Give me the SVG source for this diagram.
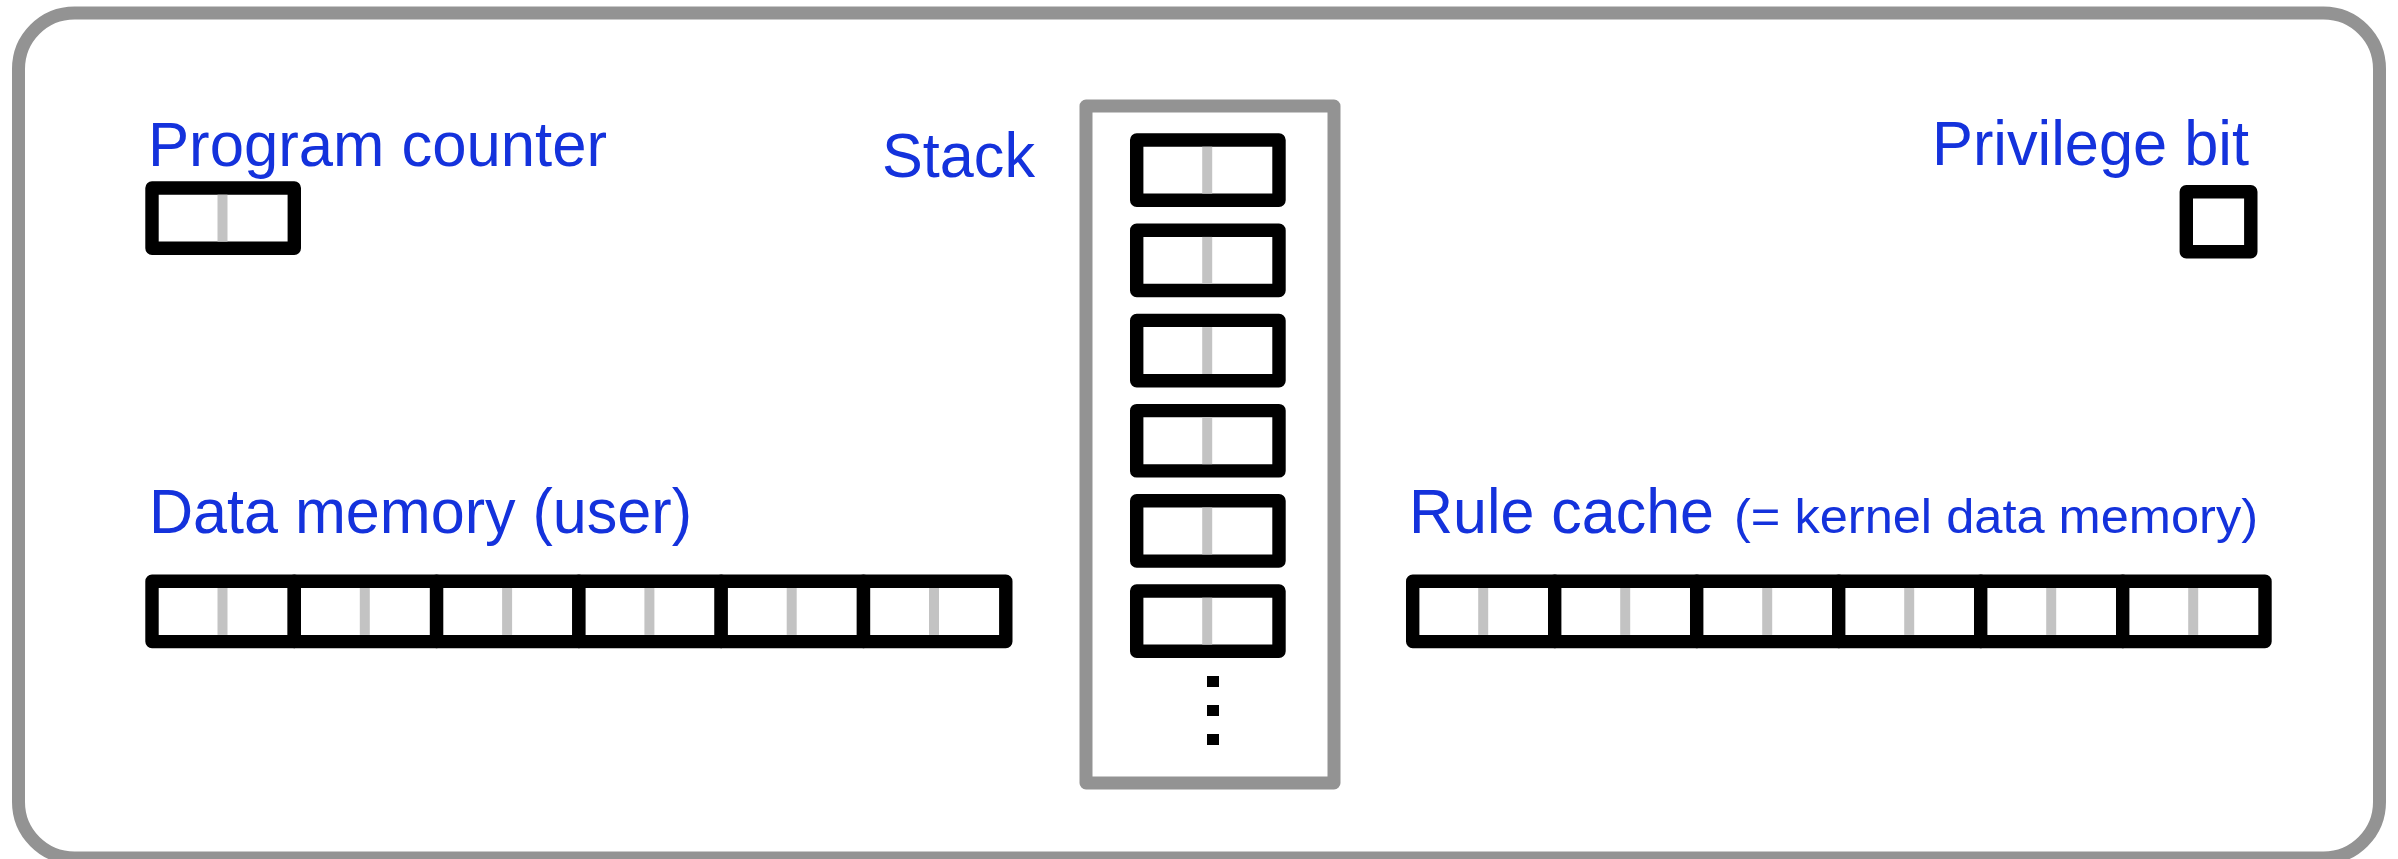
<svg xmlns="http://www.w3.org/2000/svg" width="2398" height="859" viewBox="0 0 2398 859">
<defs>
<style>
.lbl{font-family:"Liberation Sans",Arial,Helvetica,sans-serif;fill:#1432DC;font-size:63px}
.sm{font-size:48px}
.cell{fill:#fff;stroke:#000;stroke-width:13.4;stroke-linejoin:round}
.div{stroke:#C3C3C3;stroke-width:10}
.frame{fill:none;stroke:#939393;stroke-width:13;stroke-linejoin:round}
.dot{fill:#000}
</style>
<g id="c2">
<rect class="cell" x="0" y="0" width="142.3" height="60.3"/>
<line class="div" x1="70.5" y1="6.7" x2="70.5" y2="53.6"/>
</g>
</defs>
<rect x="0" y="0" width="2398" height="859" fill="#fff"/>
<g id="outer">
<rect x="18.5" y="13" width="2361" height="845" rx="56" ry="56" fill="#fff" stroke="#939393" stroke-width="13"/>
</g>
<g id="program-counter">
<text class="lbl" x="148" y="166" textLength="459" lengthAdjust="spacingAndGlyphs">Program counter</text>
<use href="#c2" x="152" y="188"/>
</g>
<g id="stack">
<text class="lbl" x="882" y="177" textLength="153" lengthAdjust="spacingAndGlyphs">Stack</text>
<rect class="frame" x="1086" y="106" width="248" height="677"/>
<use href="#c2" x="1136.7" y="140"/>
<use href="#c2" x="1136.7" y="230.2"/>
<use href="#c2" x="1136.7" y="320.4"/>
<use href="#c2" x="1136.7" y="410.6"/>
<use href="#c2" x="1136.7" y="500.8"/>
<use href="#c2" x="1136.7" y="591"/>
<rect class="dot" x="1207" y="676" width="12" height="11"/>
<rect class="dot" x="1207" y="705" width="12" height="11"/>
<rect class="dot" x="1207" y="734" width="12" height="11"/>
</g>
<g id="privilege-bit">
<text class="lbl" x="1932" y="165" textLength="317" lengthAdjust="spacingAndGlyphs">Privilege bit</text>
<rect class="cell" x="2186.3" y="191.8" width="64.5" height="60"/>
</g>
<g id="data-memory">
<text class="lbl" x="149" y="533" textLength="543" lengthAdjust="spacingAndGlyphs">Data memory (user)</text>
<use href="#c2" x="152" y="581.3"/>
<use href="#c2" x="294.3" y="581.3"/>
<use href="#c2" x="436.6" y="581.3"/>
<use href="#c2" x="578.9" y="581.3"/>
<use href="#c2" x="721.2" y="581.3"/>
<use href="#c2" x="863.5" y="581.3"/>
</g>
<g id="rule-cache">
<text class="lbl" x="1409" y="533" textLength="305" lengthAdjust="spacingAndGlyphs">Rule cache</text>
<text class="lbl sm" x="1734" y="533" textLength="524" lengthAdjust="spacingAndGlyphs">(= kernel data memory)</text>
<use href="#c2" x="1412.7" y="581.3"/>
<use href="#c2" x="1554.7" y="581.3"/>
<use href="#c2" x="1696.7" y="581.3"/>
<use href="#c2" x="1838.7" y="581.3"/>
<use href="#c2" x="1980.7" y="581.3"/>
<use href="#c2" x="2122.7" y="581.3"/>
</g>
<g id="connectors"/>
</svg>
